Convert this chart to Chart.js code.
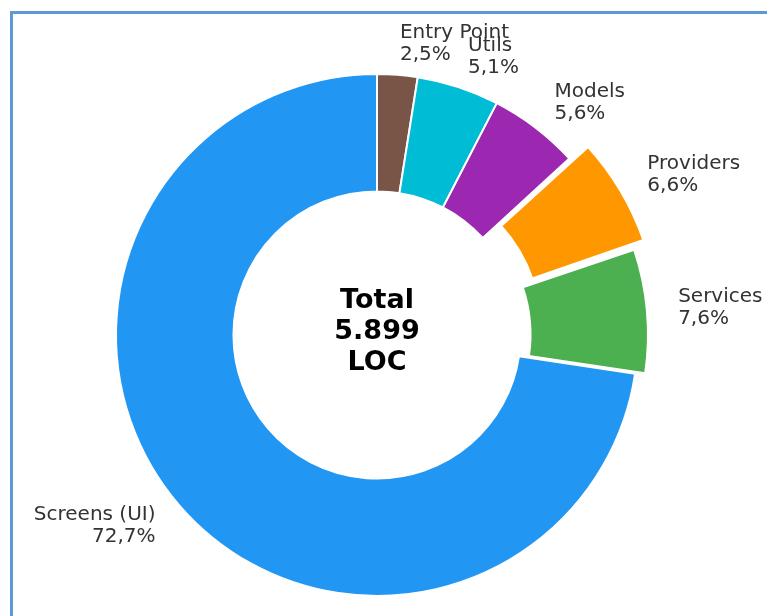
<!DOCTYPE html>
<html>
<head>
<meta charset="utf-8">
<title>Lines of code per module</title>
<script src="https://cdn.jsdelivr.net/npm/chart.js"></script>
<style>
  html, body { margin: 0; padding: 0; background: #fff; }
  #wrap { position: relative; width: 767px; height: 616px; overflow: hidden; }
  /* only top + left edges of the frame are visible in the crop */
  #frame { position: absolute; left: 10px; top: 11px; right: -10px; bottom: -10px;
           border-top: 3px solid #5b9bd5; border-left: 3px solid #5b9bd5; }
  canvas { position: absolute; left: 0; top: 0; }
</style>
</head>
<body>
<div id="wrap">
  <div id="frame"></div>
  <canvas id="myChart" width="767" height="616"></canvas>
</div>
<script>
// --- data: share of lines of code per module (%) ---
const categories = ['Entry Point', 'Utils', 'Models', 'Providers', 'Services', 'Screens (UI)'];
const shares = [2.5, 5.1, 5.6, 6.6, 7.6, 72.7];
const centerLines = ['Total', '5.899', 'LOC'];

// --- style ---
const colors = ['#795548', '#00bcd4', '#9c27b0', '#ff9800', '#4caf50', '#2196f3'];
const explode = [0, 0, 0, 55, 26, 0];   // Chart.js arc offset (Providers, Services pulled out)
const OUTER_R = 261;
const LABEL_DIST = 1.12;
const LABEL_LINE_H = 22;
const CENTER_LINE_H = 31;

// percent with comma decimal, like the original
const fmtPct = v => v.toFixed(1).replace('.', ',') + '%';

// labels outside the ring + total in the hole
const pieLabels = {
    id: 'pieLabels',
    afterDatasetsDraw(chart) {
        const ctx = chart.ctx;
        const meta = chart.getDatasetMeta(0);
        ctx.save();
        ctx.textBaseline = 'middle';

        ctx.font = '20px "DejaVu Sans"';
        ctx.fillStyle = '#333';
        meta.data.forEach((arc, i) => {
            const p = arc.getProps(['x', 'y', 'startAngle', 'endAngle', 'outerRadius', 'circumference'], true);
            const mid = (p.startAngle + p.endAngle) / 2;
            // same shift the arc element applies to an offset slice (translate + radius grow)
            const o = explode[i] / 4;
            const shift = o + o * (1 - Math.sin(Math.min(Math.PI, p.circumference)));
            const r = p.outerRadius * LABEL_DIST + shift;
            const x = p.x + Math.cos(mid) * r;
            const y = p.y + Math.sin(mid) * r;
            ctx.textAlign = Math.cos(mid) > 0 ? 'left' : 'right';
            const lines = [categories[i], fmtPct(shares[i])];
            lines.forEach((t, k) => {
                ctx.fillText(t, x, y + (k - (lines.length - 1) / 2) * LABEL_LINE_H);
            });
        });

        // centre text
        const c = meta.data[0].getProps(['x', 'y'], true);
        ctx.font = 'bold 27px "DejaVu Sans"';
        ctx.fillStyle = '#000';
        ctx.textAlign = 'center';
        centerLines.forEach((t, k) => {
            ctx.fillText(t, c.x, c.y - 3 + (k - (centerLines.length - 1) / 2) * CENTER_LINE_H);
        });
        ctx.restore();
    }
};

const ctx = document.getElementById('myChart').getContext('2d');
new Chart(ctx, {
    type: 'doughnut',
    data: {
        labels: categories,
        datasets: [{
            data: shares,
            backgroundColor: colors,
            borderColor: '#ffffff',
            borderWidth: 2,
            offset: explode
        }]
    },
    options: {
        responsive: false,
        animation: false,
        radius: OUTER_R,
        cutout: '55%',
        rotation: 0,
        // put the ring centre at (377, 335)
        layout: { padding: { left: 0, right: 13, top: 54, bottom: 0 } },
        plugins: {
            legend: { display: false },
            tooltip: { enabled: false }
        }
    },
    plugins: [pieLabels]
});
</script>
</body>
</html>
